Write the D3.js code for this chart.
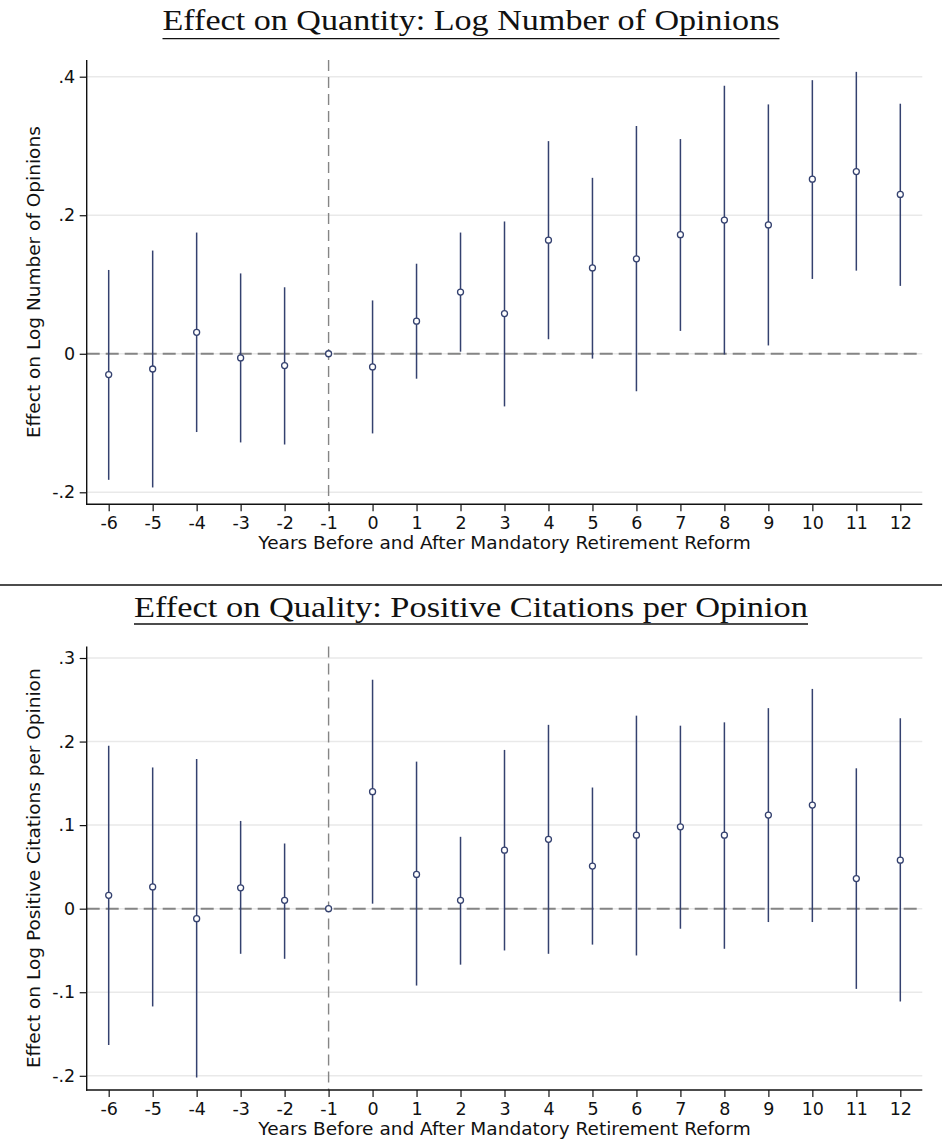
<!DOCTYPE html>
<html>
<head>
<meta charset="utf-8">
<script src="https://cdn.jsdelivr.net/npm/d3@7/dist/d3.min.js"></script>
<style>
  html, body { margin: 0; padding: 0; background: #fff; }
  svg { display: block; }
</style>
</head>
<body>
<svg id="chart" width="942" height="1144"></svg>
<script>
// Event-study estimates with 95% confidence intervals, by year relative to the reform
const years = [-6, -5, -4, -3, -2, -1, 0, 1, 2, 3, 4, 5, 6, 7, 8, 9, 10, 11, 12];

// Panel 1: log number of opinions
const quantEst = [-0.030, -0.022, 0.031, -0.006, -0.017, 0, -0.019, 0.047, 0.089, 0.058, 0.164, 0.124, 0.137, 0.172, 0.193, 0.186, 0.252, 0.263, 0.230];
const quantLo  = [-0.182, -0.193, -0.113, -0.128, -0.131, null, -0.115, -0.036, 0.003, -0.076, 0.021, -0.007, -0.054, 0.033, -0.001, 0.012, 0.108, 0.120, 0.098];
const quantHi  = [0.121, 0.149, 0.175, 0.116, 0.096, null, 0.077, 0.130, 0.175, 0.191, 0.307, 0.254, 0.329, 0.310, 0.387, 0.360, 0.395, 0.407, 0.361];

// Panel 2: log positive citations per opinion
const qualEst = [0.016, 0.026, -0.012, 0.025, 0.010, 0, 0.140, 0.041, 0.010, 0.070, 0.083, 0.051, 0.088, 0.098, 0.088, 0.112, 0.124, 0.036, 0.058];
const qualLo  = [-0.163, -0.117, -0.202, -0.054, -0.060, null, 0.006, -0.092, -0.067, -0.050, -0.054, -0.043, -0.056, -0.024, -0.048, -0.016, -0.016, -0.096, -0.111];
const qualHi  = [0.195, 0.169, 0.179, 0.105, 0.078, null, 0.274, 0.176, 0.086, 0.190, 0.220, 0.145, 0.231, 0.219, 0.223, 0.240, 0.263, 0.168, 0.228];

const quantTicks = [-0.2, 0, 0.2, 0.4];
const qualTicks = [-0.2, -0.1, 0, 0.1, 0.2, 0.3];
const referenceYear = -1;

const titles = [
  "Effect on Quantity: Log Number of Opinions",
  "Effect on Quality: Positive Citations per Opinion"
];
const yTitles = [
  "Effect on Log Number of Opinions",
  "Effect on Log Positive Citations per Opinion"
];
const xTitle = "Years Before and After Mandatory Retirement Reform";

// Stata-style labels: ".2", "-.1", plain hyphen for negatives
const yFmt = v => v === 0 ? "0" : (v < 0 ? "-" : "") + d3.format(".1f")(Math.abs(v)).replace(/^0/, "");
const xFmt = v => String(v);

const svg = d3.select("#chart");
const W = 942;
const left = 86.7, right = 922.3;
const ciColor = "#34416f";
const sansFont = "'DejaVu Sans', Verdana, sans-serif";
const serifFont = "'Liberation Serif', 'Times New Roman', serif";

const x = d3.scaleLinear().domain([-6.5, 12.5]).range([left, right]);

const panels = [
  {
    title: titles[0], titleLen: 617, titleBase: 30, underline: 38.6,
    top: 60, bottom: 504.3,
    tickA: 0.4, pxA: 76.7, tickB: -0.2, pxB: 492.3,
    ticks: quantTicks, est: quantEst, lo: quantLo, hi: quantHi, yTitle: yTitles[0]
  },
  {
    title: titles[1], titleLen: 674, titleBase: 616.5, underline: 624,
    top: 646.4, bottom: 1090,
    tickA: 0.3, pxA: 658, tickB: -0.2, pxB: 1075.8,
    ticks: qualTicks, est: qualEst, lo: qualLo, hi: qualHi, yTitle: yTitles[1]
  }
];

// rule between the two panels
svg.append("line")
  .attr("x1", 0).attr("x2", W).attr("y1", 585).attr("y2", 585)
  .attr("stroke", "#111").attr("stroke-width", 1.4);

panels.forEach(p => {
  const y = d3.scaleLinear().domain([p.tickB, p.tickA]).range([p.pxB, p.pxA]);
  const g = svg.append("g");

  // title with underline
  g.append("text")
    .attr("x", W / 2).attr("y", p.titleBase)
    .attr("text-anchor", "middle")
    .attr("font-family", serifFont)
    .attr("font-size", 30)
    .attr("fill", "#111")
    .attr("textLength", p.titleLen)
    .attr("lengthAdjust", "spacingAndGlyphs")
    .text(p.title);
  g.append("line")
    .attr("x1", W / 2 - p.titleLen / 2).attr("x2", W / 2 + p.titleLen / 2)
    .attr("y1", p.underline).attr("y2", p.underline)
    .attr("stroke", "#111").attr("stroke-width", 1.3);

  // horizontal gridlines
  g.append("g").selectAll("line").data(p.ticks).join("line")
    .attr("x1", left).attr("x2", right)
    .attr("y1", d => y(d)).attr("y2", d => y(d))
    .attr("stroke", "#e9e9e9").attr("stroke-width", 1.5);

  // reference lines: zero effect and the omitted year
  g.append("line")
    .attr("x1", left).attr("x2", right)
    .attr("y1", y(0)).attr("y2", y(0))
    .attr("stroke", "#858585").attr("stroke-width", 2)
    .attr("stroke-dasharray", "13,6");
  g.append("line")
    .attr("x1", x(referenceYear)).attr("x2", x(referenceYear))
    .attr("y1", p.top).attr("y2", p.bottom)
    .attr("stroke", "#858585").attr("stroke-width", 1.4)
    .attr("stroke-dasharray", "11,6");

  const rows = years.map((yr, i) => ({ yr, est: p.est[i], lo: p.lo[i], hi: p.hi[i] }));

  // confidence intervals
  g.append("g").selectAll("line").data(rows.filter(r => r.lo !== null)).join("line")
    .attr("x1", d => x(d.yr)).attr("x2", d => x(d.yr))
    .attr("y1", d => y(d.lo)).attr("y2", d => y(d.hi))
    .attr("stroke", ciColor).attr("stroke-width", 1.5);

  // point estimates
  g.append("g").selectAll("circle").data(rows).join("circle")
    .attr("cx", d => x(d.yr)).attr("cy", d => y(d.est))
    .attr("r", 3)
    .attr("fill", "#fff")
    .attr("stroke", ciColor).attr("stroke-width", 1.3);

  // y axis
  const yAxis = g.append("g")
    .attr("transform", `translate(${left},0)`)
    .call(d3.axisLeft(y).tickValues(p.ticks).tickFormat(yFmt).tickSize(7).tickPadding(4.5));
  yAxis.select(".domain").remove();
  yAxis.append("line")
    .attr("x1", 0).attr("x2", 0).attr("y1", p.top).attr("y2", p.bottom + 0.7)
    .attr("stroke", "#111").attr("stroke-width", 1.4);

  // x axis
  const xAxis = g.append("g")
    .attr("transform", `translate(0,${p.bottom})`)
    .call(d3.axisBottom(x).tickValues(years).tickFormat(xFmt).tickSize(7).tickPadding(5.5));
  xAxis.select(".domain").remove();
  xAxis.append("line")
    .attr("x1", left - 0.7).attr("x2", right).attr("y1", 0).attr("y2", 0)
    .attr("stroke", "#111").attr("stroke-width", 1.4);

  [yAxis, xAxis].forEach(a => {
    a.selectAll(".tick line").attr("stroke", "#111").attr("stroke-width", 1.2);
    a.selectAll(".tick text")
      .attr("font-family", sansFont).attr("font-size", 17.5).attr("fill", "#111");
  });

  // axis titles
  g.append("text")
    .attr("x", (left + right) / 2).attr("y", p.bottom + 44.7)
    .attr("text-anchor", "middle")
    .attr("font-family", sansFont).attr("font-size", 18.5).attr("fill", "#111")
    .text(xTitle);
  g.append("text")
    .attr("transform", `translate(39.5,${(p.top + p.bottom) / 2}) rotate(-90)`)
    .attr("text-anchor", "middle")
    .attr("font-family", sansFont).attr("font-size", 18.5).attr("fill", "#111")
    .text(p.yTitle);
});
</script>
</body>
</html>
